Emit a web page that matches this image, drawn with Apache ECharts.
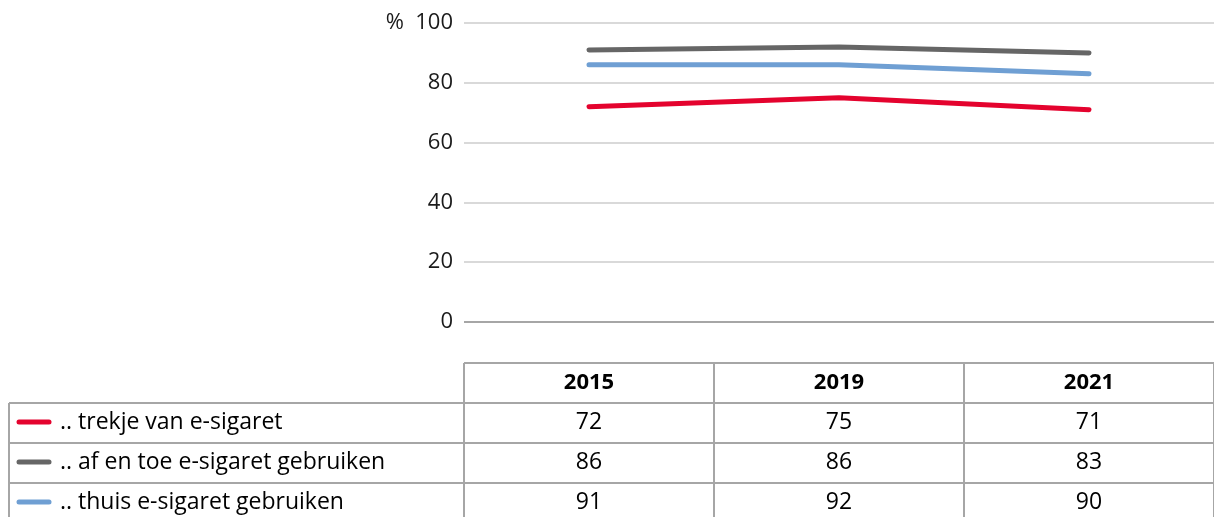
<!DOCTYPE html>
<html>
<head>
<meta charset="utf-8">
<script src="https://cdn.jsdelivr.net/npm/echarts@6/dist/echarts.min.js"></script>
<style>
html,body{margin:0;padding:0;background:#fff;}
#chart{width:1214px;height:517px;}
</style>
</head>
<body>
<div id="chart"></div>
<script>
// ---- data ----
const years = ['2015', '2019', '2021'];
const seriesNames = ['.. trekje van e-sigaret', '.. af en toe e-sigaret gebruiken', '.. thuis e-sigaret gebruiken'];
const trekje = [72, 75, 71];
const afEnToe = [86, 86, 83];
const thuis = [91, 92, 90];
const yTicks = [0, 20, 40, 60, 80, 100];

// ---- styles ----
const seriesValues = [trekje, afEnToe, thuis];
const lineColors = ['#e4032e', '#6f9fd3', '#666666'];
const iconColors = ['#e4032e', '#666666', '#6f9fd3'];
const FONT = '"Open Sans", "Noto Sans", sans-serif';
const BORDER = '#a6a6a6';

const chart = echarts.init(document.getElementById('chart'), null, {renderer: 'canvas'});

const GRID_LEFT = 464, GRID_TOP = 23, GRID_H = 299, GRID_W = 753;

chart.setOption({
  animation: false,
  backgroundColor: '#fff',
  grid: {left: GRID_LEFT, top: GRID_TOP, width: GRID_W, height: GRID_H, containLabel: false},
  xAxis: {
    type: 'category',
    data: years,
    boundaryGap: true,
    axisLine: {show: false},
    axisTick: {show: false},
    axisLabel: {show: false},
    splitLine: {show: false}
  },
  yAxis: {
    type: 'value',
    min: yTicks[0],
    max: yTicks[yTicks.length - 1],
    interval: 20,
    axisLine: {show: false},
    axisTick: {show: false},
    axisLabel: {
      margin: 11,
      fontFamily: FONT,
      fontSize: 22,
      color: '#1a1a1a',
      formatter: v => v === 100 ? '%  100' : String(v)
    },
    splitLine: {lineStyle: {color: '#d9d9d9', width: 2}}
  },
  series: seriesValues.map((vals, i) => ({
    name: seriesNames[i],
    type: 'line',
    data: vals,
    symbol: 'none',
    z: 3,
    lineStyle: {color: lineColors[i], width: 5, cap: 'round', join: 'round'}
  })).concat([{
    type: 'line',
    data: [],
    markLine: {
      silent: true, symbol: 'none', label: {show: false},
      lineStyle: {color: BORDER, width: 2, type: 'solid'},
      data: [{yAxis: 0}]
    }
  }])
});

// ---- data table below the plot ----
const centers = years.map((y, i) => chart.convertToPixel({xAxisIndex: 0}, y));
const band = centers.length > 1 ? centers[1] - centers[0] : GRID_W;
const colEdges = centers.map(c => c - band / 2).concat([centers[centers.length - 1] + band / 2]);
const headerTop = 363, rowH = 40;
const tableLeft = 9;
const rightEdge = colEdges[colEdges.length - 1];
const nRows = seriesNames.length;
const bottom = headerTop + rowH * (nRows + 1);

const g = [];
const line = (x1, y1, x2, y2) => g.push({
  type: 'line', shape: {x1, y1, x2, y2}, style: {stroke: BORDER, lineWidth: 2}, silent: true
});
line(colEdges[0], headerTop, rightEdge, headerTop);
for (let r = 1; r <= nRows + 1; r++) {
  line(tableLeft, headerTop + rowH * r, rightEdge, headerTop + rowH * r);
}
line(tableLeft, headerTop + rowH, tableLeft, bottom);
colEdges.forEach(x => line(x, headerTop, x, bottom));

years.forEach((y, i) => g.push({
  type: 'text', silent: true,
  style: {
    text: y, x: centers[i], y: headerTop + rowH / 2,
    align: 'center', verticalAlign: 'middle',
    font: 'bold 22px ' + FONT, fill: '#000'
  }
}));

seriesNames.forEach((name, r) => {
  const cy = headerTop + rowH * (r + 1) + rowH / 2;
  g.push({
    type: 'line', silent: true,
    shape: {x1: 19, y1: cy - 1, x2: 49, y2: cy - 1},
    style: {stroke: iconColors[r], lineWidth: 5, lineCap: 'round'}
  });
  g.push({
    type: 'text', silent: true,
    style: {
      text: name, x: 60, y: cy - 1,
      align: 'left', verticalAlign: 'middle',
      font: '23px ' + FONT, fill: '#000'
    }
  });
  seriesValues[r].forEach((v, i) => g.push({
    type: 'text', silent: true,
    style: {
      text: String(v), x: centers[i], y: cy - 1,
      align: 'center', verticalAlign: 'middle',
      font: '23px ' + FONT, fill: '#000'
    }
  }));
});

chart.setOption({graphic: {elements: g}});
</script>
</body>
</html>
